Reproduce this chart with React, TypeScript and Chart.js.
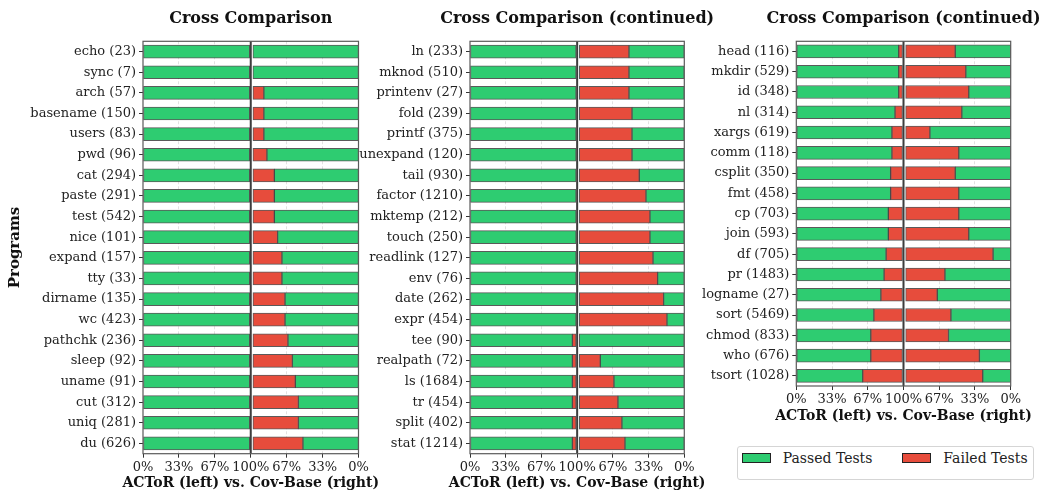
import React, { useEffect, useRef } from 'react';
import { Chart, registerables } from 'chart.js';

Chart.register(...registerables);

const FONT = "'DejaVu Serif', 'Liberation Serif', serif";
const GREEN = '#2ecc71';
const RED = '#e74c3c';

// ---------- data ----------
const programs1 = ['echo (23)', 'sync (7)', 'arch (57)', 'basename (150)', 'users (83)', 'pwd (96)', 'cat (294)', 'paste (291)', 'test (542)', 'nice (101)', 'expand (157)', 'tty (33)', 'dirname (135)', 'wc (423)', 'pathchk (236)', 'sleep (92)', 'uname (91)', 'cut (312)', 'uniq (281)', 'du (626)'];
const actorPass1 = [100, 100, 100, 100, 100, 100, 100, 100, 100, 100, 100, 100, 100, 100, 100, 100, 100, 100, 100, 100];
const covPass1 = [100, 100, 89.6, 89.6, 89.6, 86.7, 79.7, 79.7, 79.7, 76.6, 72.5, 72.5, 69.6, 69.6, 66.8, 62.6, 59.8, 56.9, 56.9, 52.6];

const programs2 = ['ln (233)', 'mknod (510)', 'printenv (27)', 'fold (239)', 'printf (375)', 'unexpand (120)', 'tail (930)', 'factor (1210)', 'mktemp (212)', 'touch (250)', 'readlink (127)', 'env (76)', 'date (262)', 'expr (454)', 'tee (90)', 'realpath (72)', 'ls (1684)', 'tr (454)', 'split (402)', 'stat (1214)'];
const actorPass2 = [100, 100, 100, 100, 100, 100, 100, 100, 100, 100, 100, 100, 100, 100, 96.5, 96.5, 96.5, 96.5, 96.5, 96.5];
const covPass2 = [52.7, 52.7, 52.7, 49.8, 49.8, 49.8, 42.9, 36.5, 32.7, 32.7, 29.8, 25.4, 19.7, 16.5, 100, 80, 67, 63.2, 59.4, 56.5];

const programs3 = ['head (116)', 'mkdir (529)', 'id (348)', 'nl (314)', 'xargs (619)', 'comm (118)', 'csplit (350)', 'fmt (458)', 'cp (703)', 'join (593)', 'df (705)', 'pr (1483)', 'logname (27)', 'sort (5469)', 'chmod (833)', 'who (676)', 'tsort (1028)'];
const actorPass3 = [96.5, 96.5, 96.5, 93.0, 90.1, 90.1, 88.9, 88.9, 86.7, 86.7, 84.6, 82.7, 79.7, 73.1, 70.2, 70.2, 62.6];
const covPass3 = [52.8, 42.7, 39.9, 46.5, 76.9, 49.4, 52.8, 49.4, 49.4, 39.9, 16.8, 62.6, 69.9, 56.9, 59.2, 29.8, 26.6];

const tickLabels = ['0%', '33%', '67%', '100%', '67%', '33%', '0%'];
const xTitle = 'ACToR (left) vs. Cov-Base (right)';

// ---------- geometry of the mirrored axis (0..1 left half, 1..2 right half) ----------
const LEFT_END = 0.99;
const RIGHT_START = 1.02;
const RIGHT_END = 2.0;

function makeDatasets(actor: number[], cov: number[]) {
  const lw = LEFT_END;
  const rw = RIGHT_END - RIGHT_START;
  const leftPass = actor.map((p) => [0, (p / 100) * lw]);
  const leftFail = actor.map((p) => (p < 100 ? [(p / 100) * lw, lw] : null));
  const rightFail = cov.map((c) => (c < 100 ? [RIGHT_START, RIGHT_START + (1 - c / 100) * rw] : null));
  const rightPass = cov.map((c) => [RIGHT_START + (1 - c / 100) * rw, RIGHT_END]);
  const ds = (data: any[], color: string) => ({
    data,
    backgroundColor: color,
    borderColor: 'rgba(35,35,35,0.75)',
    borderWidth: 1,
    borderSkipped: false,
    grouped: false,
    barThickness: 13,
  });
  return [ds(leftPass, GREEN), ds(leftFail, RED), ds(rightFail, RED), ds(rightPass, GREEN)];
}

type PanelProps = {
  left: number;
  width: number;
  height: number;
  yWidth: number;
  rightPad: number;
  xHeight: number;
  title: string;
  labels: string[];
  actor: number[];
  cov: number[];
  showYTitle: boolean;
};

function Panel(props: PanelProps) {
  const ref = useRef<HTMLCanvasElement>(null);
  useEffect(() => {
    const { title, labels, actor, cov, yWidth, rightPad, xHeight, showYTitle } = props;
    const overlay = {
      id: 'overlay',
      afterDatasetsDraw(chart: any) {
        const { ctx, chartArea } = chart;
        const x = chart.scales.x;
        const cx = x.getPixelForValue(1);
        const mid = (chartArea.left + chartArea.right) / 2;
        ctx.save();
        // center separator
        ctx.strokeStyle = '#3d3d3d';
        ctx.lineWidth = 2;
        ctx.beginPath();
        ctx.moveTo(cx, chartArea.top);
        ctx.lineTo(cx, chartArea.bottom);
        ctx.stroke();
        // frame
        ctx.strokeStyle = '#5a5a5a';
        ctx.lineWidth = 1.2;
        ctx.strokeRect(chartArea.left, chartArea.top, chartArea.right - chartArea.left, chartArea.bottom - chartArea.top);
        // panel title
        ctx.fillStyle = '#111';
        ctx.font = `bold 16px ${FONT}`;
        ctx.textAlign = 'center';
        ctx.textBaseline = 'middle';
        ctx.fillText(title, mid, 19);
        // x-axis title
        ctx.font = `bold 14px ${FONT}`;
        ctx.fillText(xTitle, mid, chartArea.bottom + 30);
        ctx.restore();
      },
    };
    const chart = new Chart(ref.current as HTMLCanvasElement, {
      type: 'bar',
      data: { labels, datasets: makeDatasets(actor, cov) as any },
      options: {
        indexAxis: 'y',
        responsive: false,
        animation: false,
        devicePixelRatio: 1,
        layout: { padding: { top: 41.3, right: rightPad, left: 0, bottom: 0 } },
        plugins: {
          legend: { display: false },
          tooltip: { enabled: false },
          title: { display: false },
        },
        scales: {
          x: {
            type: 'linear',
            min: 0,
            max: 2,
            afterBuildTicks: (s: any) => {
              s.ticks = [0, 1 / 3, 2 / 3, 1, 4 / 3, 5 / 3, 2].map((v) => ({ value: v }));
            },
            afterFit: (s: any) => {
              s.height = xHeight;
            },
            ticks: {
              callback: (_v: any, i: number) => tickLabels[i],
              font: { family: FONT, size: 13 },
              color: '#222',
              padding: 2,
              maxRotation: 0,
              autoSkip: false,
            },
            grid: {
              drawOnChartArea: true,
              color: (ctx: any) => {
                const v = ctx.tick ? ctx.tick.value : 0;
                return Math.abs(v - Math.round(v)) > 0.01 ? '#e2e2e2' : 'rgba(0,0,0,0)';
              },
              lineWidth: 1,
              tickColor: '#333',
              tickLength: 4,
              tickBorderDash: [],
            },
            border: { display: false, dash: [3, 2] },
            title: { display: false },
          },
          y: {
            type: 'category',
            afterFit: (s: any) => {
              s.width = yWidth;
            },
            ticks: {
              font: { family: FONT, size: 13 },
              color: '#222',
              padding: 3,
              autoSkip: false,
            },
            grid: {
              offset: false,
              drawOnChartArea: false,
              drawTicks: true,
              tickLength: 4,
              tickColor: '#333',
            },
            border: { display: false },
            title: showYTitle
              ? {
                  display: true,
                  text: 'Programs',
                  font: { family: FONT, size: 15, weight: 'bold' },
                  color: '#111',
                  padding: { top: 6, bottom: 0 },
                }
              : { display: false },
          },
        },
      } as any,
      plugins: [overlay],
    });
    return () => chart.destroy();
  }, []);
  return (
    <canvas
      ref={ref}
      width={props.width}
      height={props.height}
      style={{ position: 'absolute', left: props.left, top: 0, width: props.width, height: props.height }}
    />
  );
}

export default function App() {
  return (
    <div style={{ position: 'absolute', left: 0, top: 0, width: 1041, height: 492, background: '#fff', overflow: 'hidden' }}>
      <Panel left={0} width={400} height={492} yWidth={143} rightPad={41.5} xHeight={38.3}
        title="Cross Comparison" labels={programs1} actor={actorPass1} cov={covPass1} showYTitle={true} />
      <Panel left={340} width={420} height={492} yWidth={130} rightPad={75.7} xHeight={38.3}
        title="Cross Comparison (continued)" labels={programs2} actor={actorPass2} cov={covPass2} showYTitle={false} />
      <Panel left={690} width={351} height={426} yWidth={106.3} rightPad={30.3} xHeight={40}
        title="Cross Comparison (continued)" labels={programs3} actor={actorPass3} cov={covPass3} showYTitle={false} />
      <div style={{ position: 'absolute', left: 737, top: 446, width: 297, height: 34, border: '1px solid #d5d5d5', borderRadius: 3, boxSizing: 'border-box', background: '#fff', fontFamily: FONT, fontSize: 14, color: '#222' }}>
        <div style={{ position: 'absolute', left: 3.7, top: 5.7, width: 29, height: 10, background: GREEN, border: '1px solid #222', boxSizing: 'border-box' }} />
        <span style={{ position: 'absolute', left: 44.7, top: 2.5, lineHeight: '16px', whiteSpace: 'nowrap' }}>Passed Tests</span>
        <div style={{ position: 'absolute', left: 164.3, top: 5.7, width: 29, height: 10, background: RED, border: '1px solid #222', boxSizing: 'border-box' }} />
        <span style={{ position: 'absolute', left: 205.3, top: 2.5, lineHeight: '16px', whiteSpace: 'nowrap' }}>Failed Tests</span>
      </div>
    </div>
  );
}
